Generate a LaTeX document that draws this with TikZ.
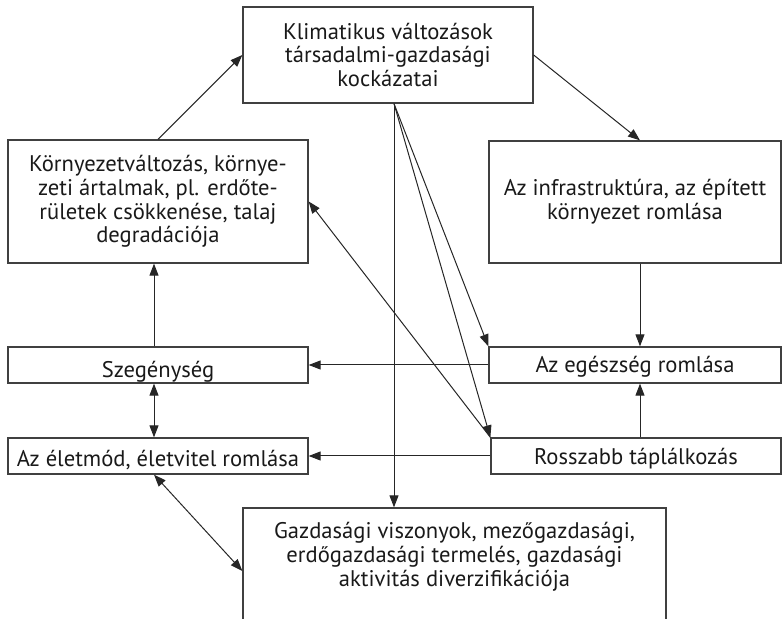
\documentclass[tikz,border=0pt]{standalone}
\usepackage{fontspec}
\setmainfont{PT Sans}
\usetikzlibrary{arrows.meta,positioning,calc}
\tikzset{
    box color/.style={black!75},
    box/.style={draw=black!75, line width=0.65pt, inner sep=0pt, align=center, text=black!90},
    onebox/.style={box, minimum height=18pt, text height=8pt, text depth=0pt},
    arr/.style={-{Triangle[length=6pt,width=4.5pt]}, line width=0.5pt, black!85},
    darr/.style={{Triangle[length=6pt,width=4.5pt]}-{Triangle[length=6pt,width=4.5pt]}, line width=0.5pt, black!85},
}
\tikzstyle{every node}=[font=\fontsize{11.3}{11.9}\selectfont]

\begin{document}
\begin{tikzpicture}[x=0.5pt,y=-0.5pt]
        \useasboundingbox (0,0) rectangle (783,619);
        \clip (0,0) rectangle (783,619);

        \node[box, minimum width=145pt, minimum height=48pt] (klima) at (388,55) {Klimatikus változások\\társadalmi-gazdasági\\kockázatai};
        \node[box, minimum width=150pt, minimum height=61.5pt] (korny) at (158,201.5) {Környezetváltozás, környe-\\zeti ártalmak, pl. erdőte-\\rületek csökkenése, talaj\\degradációja};
        \node[box, minimum width=146pt, minimum height=61pt] (infra) at (635,202) {Az infrastruktúra, az épített\\környezet romlása};

        \node[onebox, minimum width=150pt, text height=12.5pt] (szeg) at (158,365) {Szegénység};
        \node[onebox, minimum width=150pt, text height=10.5pt] (eletmod) at (158,456) {Az életmód, életvitel romlása};
        \node[onebox, minimum width=146pt] (egesz) at (635,365) {Az egészség romlása};
        \node[onebox, minimum width=145pt, text height=9pt] (rossz) at (636,456) {Rosszabb táplálkozás};

        % bottom box runs past the lower edge
        \node[box, minimum width=211.5pt, minimum height=63pt] (gazd) at (454.5,571) {};
        \node[align=center, text=black!90] (gazdtxt) at (454.5,557) {Gazdasági viszonyok, mezőgazdasági,\\erdőgazdasági termelés, gazdasági\\aktivitás diverzifikációja};

        \coordinate (src) at ([xshift=3pt]klima.south);

        \draw[arr] (korny.north) -- (klima.west);
        \draw[arr] (klima.east) -- ([xshift=2.5pt]infra.north);
        \draw[arr] ([xshift=2.5pt]infra.south) -- ([xshift=2.5pt]egesz.north);
        \draw[arr] ([xshift=2pt]rossz.north) -- ([xshift=2.5pt]egesz.south);
        \draw[arr] (egesz.west) -- (szeg.east);
        \draw[arr] (rossz.west) -- (eletmod.east);
        \draw[arr] ([xshift=-2pt]szeg.north) -- ([xshift=-2pt]korny.south);
        \draw[darr] ([xshift=-2pt]szeg.south) -- ([xshift=-2pt]eletmod.north);
        \draw[darr] ([xshift=-2pt]eletmod.south) -- (gazd.west);

        \draw[arr] (src) -- (src |- gazd.north);
        \draw[arr] (src) -- (egesz.north west);
        \draw[arr] (src) -- (rossz.north west);
        \draw[arr] (rossz.north west) -- (korny.east);
    \end{tikzpicture}
\end{document}
